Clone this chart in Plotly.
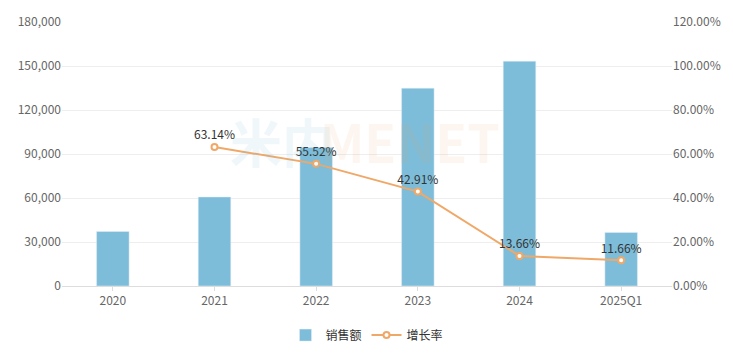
import plotly.graph_objects as go

categories = ["2020", "2021", "2022", "2023", "2024", "2025Q1"]
sales = [37200, 60700, 94400, 134900, 153300, 36500]
growth = [None, 63.14, 55.52, 42.91, 13.66, 11.66]
growth_labels = ["", "63.14%", "55.52%", "42.91%", "13.66%", "11.66%"]
left_ticks = [0, 30000, 60000, 90000, 120000, 150000, 180000]
right_ticks = [0, 20, 40, 60, 80, 100, 120]

fig = go.Figure()
fig.add_trace(go.Bar(
    x=categories, y=sales, name="销售额", marker_color="#7dbdd9",
    width=0.32, yaxis="y"))
fig.add_trace(go.Scatter(
    x=categories, y=growth, name="增长率", mode="lines+markers+text",
    line=dict(color="#f0a868", width=2),
    marker=dict(symbol="circle", size=6, color="white", line=dict(color="#f0a868", width=2)),
    text=growth_labels, textposition="top center",
    textfont=dict(size=12, color="#333333"),
    yaxis="y2", connectgaps=False))

font_family = "Noto Sans CJK SC, Noto Sans, sans-serif"
fig.update_layout(
    width=733, height=355,
    margin=dict(l=62, r=61, t=22, b=69, autoexpand=False),
    plot_bgcolor="white", paper_bgcolor="white",
    font=dict(family=font_family, size=12, color="#666666"),
    showlegend=True,
    legend=dict(orientation="h", x=0.5, xanchor="center", yref="container",
                y=0.056, yanchor="middle",
                font=dict(size=12, color="#333333"), itemwidth=30),
    xaxis=dict(showgrid=False, showline=True, linecolor="#dddddd", ticks="outside",
               tickcolor="#dddddd", ticklen=4, tickfont=dict(color="#666666")),
    yaxis=dict(range=[0, 180000], tickvals=left_ticks,
               ticktext=[f"{v:,}" for v in left_ticks],
               showgrid=True, gridcolor="#eeeeee", zeroline=False, showline=False,
               tickfont=dict(color="#666666")),
    yaxis2=dict(range=[0, 120], tickvals=right_ticks,
                ticktext=[f"{v:.2f}%" for v in right_ticks],
                overlaying="y", side="right", showgrid=False, zeroline=False,
                showline=False, tickfont=dict(color="#666666")),
)

fig.add_annotation(text="<b>米内</b>", xref="paper", yref="paper", x=0.36, y=0.55,
                   showarrow=False, font=dict(size=52, color="rgba(125,189,217,0.12)"))
fig.add_annotation(text="<b>MENET</b>", xref="paper", yref="paper", x=0.57, y=0.55,
                   showarrow=False, font=dict(size=52, color="rgba(240,168,104,0.10)"))

fig.write_html("out.html")
